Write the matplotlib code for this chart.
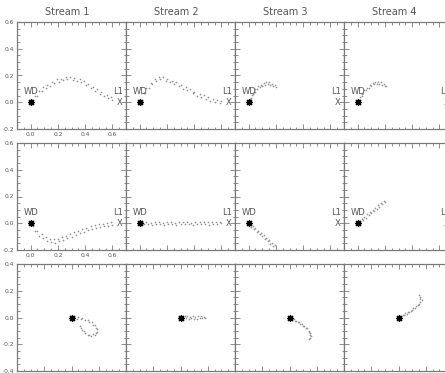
import matplotlib
matplotlib.use('Agg')
import matplotlib.pyplot as plt
from matplotlib.ticker import MultipleLocator, AutoMinorLocator, FormatStrFormatter

# ---- data: particle positions ----
titles = ['Stream 1', 'Stream 2', 'Stream 3', 'Stream 4']

# row 1
s1_r1_x = [0.03, 0.05, 0.06, 0.08, 0.09, 0.11, 0.12, 0.14, 0.16, 0.17, 0.19, 0.21,
           0.22, 0.24, 0.26, 0.27, 0.29, 0.31, 0.32, 0.34, 0.36, 0.37, 0.39, 0.41,
           0.42, 0.44, 0.46, 0.47, 0.49, 0.51, 0.52, 0.54, 0.56, 0.57, 0.59, 0.60]
s1_r1_y = [0.050, 0.048, 0.081, 0.082, 0.112, 0.105, 0.128, 0.123, 0.155, 0.144, 0.172, 0.155,
           0.176, 0.163, 0.188, 0.172, 0.192, 0.168, 0.183, 0.158, 0.175, 0.154, 0.162, 0.130,
           0.138, 0.108, 0.115, 0.087, 0.097, 0.065, 0.073, 0.043, 0.055, 0.029, 0.038, 0.015]
s2_r1_x = [0.03, 0.04, 0.05, 0.07, 0.08, 0.09, 0.11, 0.12, 0.14, 0.15, 0.17, 0.19, 0.20,
           0.22, 0.24, 0.25, 0.27, 0.29, 0.30, 0.32, 0.34, 0.35, 0.37, 0.39, 0.40, 0.42,
           0.44, 0.45, 0.47, 0.49, 0.50, 0.52, 0.54, 0.55, 0.57, 0.59, 0.60]
s2_r1_y = [0.070, 0.072, 0.103, 0.110, 0.147, 0.137, 0.172, 0.160, 0.190, 0.172, 0.190, 0.162, 0.176,
           0.148, 0.162, 0.140, 0.150, 0.118, 0.130, 0.100, 0.112, 0.089, 0.099, 0.067, 0.080, 0.050,
           0.063, 0.041, 0.052, 0.022, 0.036, 0.009, 0.025, 0.004, 0.017, -0.007, 0.008]
s3_r1_x = [0.01, 0.02, 0.025, 0.03, 0.04, 0.045, 0.05, 0.06, 0.07, 0.08, 0.09,
           0.10, 0.11, 0.12, 0.13, 0.14, 0.15, 0.16, 0.17, 0.18, 0.19, 0.20]
s3_r1_y = [0.025, 0.035, 0.052, 0.058, 0.078, 0.080, 0.098, 0.100, 0.118, 0.112, 0.132,
           0.125, 0.145, 0.132, 0.148, 0.135, 0.150, 0.130, 0.140, 0.118, 0.128, 0.112]
s4_r1_x = [0.01, 0.02, 0.03, 0.035, 0.04, 0.05, 0.06, 0.07, 0.08, 0.09, 0.10,
           0.11, 0.12, 0.13, 0.14, 0.15, 0.16, 0.17, 0.18, 0.19, 0.20, 0.21]
s4_r1_y = [0.020, 0.040, 0.045, 0.065, 0.068, 0.088, 0.090, 0.110, 0.108, 0.128, 0.122,
           0.142, 0.135, 0.152, 0.140, 0.155, 0.138, 0.148, 0.128, 0.138, 0.118, 0.122]

# row 2
s1_r2_x = [0.02, 0.03, 0.05, 0.06, 0.08, 0.09, 0.11, 0.12, 0.14, 0.15,
           0.17, 0.18, 0.20, 0.21, 0.23, 0.24, 0.26, 0.27, 0.29, 0.30,
           0.32, 0.33, 0.35, 0.36, 0.38, 0.39, 0.41, 0.42, 0.44, 0.45,
           0.47, 0.48, 0.50, 0.51, 0.53, 0.54, 0.56, 0.57, 0.59, 0.60]
s1_r2_y = [-0.020, -0.055, -0.060, -0.092, -0.083, -0.112, -0.103, -0.132, -0.116, -0.142,
           -0.120, -0.144, -0.116, -0.136, -0.104, -0.124, -0.092, -0.112, -0.080, -0.100,
           -0.068, -0.088, -0.056, -0.076, -0.044, -0.064, -0.032, -0.052, -0.022, -0.042,
           -0.014, -0.036, -0.008, -0.030, -0.002, -0.024, 0.004, -0.018, 0.010, -0.010]
s2_r2_x = [0.02, 0.03, 0.05, 0.06, 0.08, 0.09, 0.11, 0.12, 0.14, 0.15,
           0.17, 0.18, 0.20, 0.21, 0.23, 0.24, 0.26, 0.27, 0.29, 0.30,
           0.32, 0.33, 0.35, 0.36, 0.38, 0.39, 0.41, 0.42, 0.44, 0.45,
           0.47, 0.48, 0.50, 0.51, 0.53, 0.54, 0.56, 0.57, 0.59, 0.60]
s2_r2_y = [0.006, -0.008, 0.010, -0.006, 0.004, -0.010, 0.008, -0.004, 0.011, -0.008,
           0.005, -0.011, 0.009, -0.005, 0.012, -0.007, 0.004, -0.010, 0.010, -0.004,
           0.008, -0.009, 0.012, -0.006, 0.005, -0.010, 0.011, -0.004, 0.008, -0.009,
           0.012, -0.005, 0.006, -0.010, 0.010, -0.006, 0.009, -0.004, 0.011, 0.002]
s3_r2_x = [0.01, 0.02, 0.03, 0.04, 0.05, 0.06, 0.07, 0.08, 0.09, 0.10,
           0.11, 0.12, 0.13, 0.14, 0.15, 0.16, 0.17, 0.18, 0.19]
s3_r2_y = [-0.002, -0.026, -0.020, -0.045, -0.037, -0.063, -0.055, -0.080, -0.073, -0.099,
           -0.090, -0.117, -0.108, -0.135, -0.127, -0.152, -0.145, -0.170, -0.163]
s4_r2_x = [0.01, 0.02, 0.03, 0.04, 0.05, 0.06, 0.07, 0.08, 0.09, 0.10,
           0.11, 0.12, 0.13, 0.14, 0.15, 0.16, 0.17, 0.18, 0.19, 0.20]
s4_r2_y = [0.016, 0.009, 0.033, 0.025, 0.050, 0.042, 0.066, 0.058, 0.083, 0.075,
           0.099, 0.092, 0.116, 0.108, 0.133, 0.125, 0.149, 0.141, 0.166, 0.158]

# row 3
s1_r3_x = [0.02, 0.04, 0.05, 0.07, 0.08, 0.10, 0.12, 0.13, 0.15, 0.16, 0.17, 0.18, 0.19,
           0.19, 0.18, 0.17, 0.16, 0.14, 0.13, 0.12, 0.10, 0.09, 0.08, 0.07, 0.06]
s1_r3_y = [0.005, -0.008, 0.002, -0.014, -0.006, -0.022, -0.018, -0.035, -0.032, -0.055, -0.058, -0.080, -0.085,
           -0.108, -0.115, -0.130, -0.122, -0.142, -0.132, -0.128, -0.115, -0.100, -0.090, -0.075, -0.060]
s2_r3_x = [0.01, 0.02, 0.03, 0.04, 0.05, 0.06, 0.07, 0.08, 0.09,
           0.10, 0.11, 0.12, 0.13, 0.14, 0.15, 0.16, 0.17, 0.18]
s2_r3_y = [0.006, -0.007, 0.009, -0.004, 0.008, -0.009, 0.005, -0.006, 0.010,
           -0.008, 0.004, -0.010, 0.008, -0.004, 0.009, -0.007, 0.005, 0.0]
s3_r3_x = [0.01, 0.02, 0.03, 0.04, 0.05, 0.06, 0.07, 0.08, 0.09, 0.10,
           0.11, 0.12, 0.13, 0.14, 0.14, 0.15, 0.15, 0.16, 0.15, 0.14]
s3_r3_y = [-0.002, -0.012, -0.014, -0.024, -0.024, -0.036, -0.036, -0.048, -0.048, -0.062,
           -0.064, -0.080, -0.082, -0.098, -0.108, -0.118, -0.130, -0.140, -0.150, -0.158]
s4_r3_x = [0.01, 0.02, 0.03, 0.04, 0.05, 0.06, 0.07, 0.08, 0.09, 0.10,
           0.11, 0.12, 0.13, 0.14, 0.15, 0.16, 0.17, 0.16, 0.16, 0.15]
s4_r3_y = [0.010, 0.006, 0.020, 0.016, 0.030, 0.026, 0.040, 0.040, 0.052, 0.056,
           0.068, 0.072, 0.086, 0.092, 0.104, 0.114, 0.128, 0.140, 0.152, 0.165]

streams = [
    [(s1_r1_x, s1_r1_y), (s2_r1_x, s2_r1_y), (s3_r1_x, s3_r1_y), (s4_r1_x, s4_r1_y)],
    [(s1_r2_x, s1_r2_y), (s2_r2_x, s2_r2_y), (s3_r2_x, s3_r2_y), (s4_r2_x, s4_r2_y)],
    [(s1_r3_x, s1_r3_y), (s2_r3_x, s2_r3_y), (s3_r3_x, s3_r3_y), (s4_r3_x, s4_r3_y)],
]

wd_pos = (0.0, 0.0)
l1_pos = (0.655, 0.0)

# ---- layout (pixels of a 445x373 canvas) ----
W, H = 445, 373
col_left = [17, 126, 235, 344]
col_w = 109
row_top = [22, 143, 264]
row_h = 107
row_xlim = [(-0.1, 0.7), (-0.1, 0.7), (-0.4, 0.4)]
row_ylim = [(-0.2, 0.6), (-0.2, 0.6), (-0.4, 0.4)]

axcol = '#7a7a7a'
txtcol = '#555555'

fig = plt.figure(figsize=(W / 100, H / 100), dpi=100)

for r in range(3):
    for c in range(4):
        ax = fig.add_axes([col_left[c] / W, 1 - (row_top[r] + row_h) / H,
                           col_w / W, row_h / H])
        ax.set_xlim(*row_xlim[r])
        ax.set_ylim(*row_ylim[r])
        for sp in ax.spines.values():
            sp.set_color(axcol)
            sp.set_linewidth(0.9)
        ax.xaxis.set_major_locator(MultipleLocator(0.2))
        ax.yaxis.set_major_locator(MultipleLocator(0.2))
        ax.xaxis.set_minor_locator(AutoMinorLocator(4))
        ax.yaxis.set_minor_locator(AutoMinorLocator(4))
        ax.xaxis.set_major_formatter(FormatStrFormatter('%.1f'))
        ax.yaxis.set_major_formatter(FormatStrFormatter('%.1f'))
        ax.tick_params(which='both', direction='in', top=True, right=True,
                       color=axcol, width=0.6, labelsize=4.3, labelcolor=txtcol)
        ax.tick_params(which='major', length=3.5, pad=2)
        ax.tick_params(which='minor', length=1.8)
        if c != 0:
            ax.tick_params(labelleft=False)
        if c != 0 or r == 2:
            ax.tick_params(labelbottom=False)

        xs, ys = streams[r][c]
        ax.plot(xs, ys, '+', color='#909090', ms=1.8, mew=0.4, zorder=2)
        ax.plot(*wd_pos, marker=(8, 2, 0), color='black', ms=5, mew=0.9, zorder=3)

        if r < 2:
            ax.text(0.005, 0.045, 'WD', fontsize=6, color=txtcol, ha='center', va='bottom')
            ax.text(0.645, 0.045, 'L1', fontsize=6, color=txtcol, ha='center', va='bottom')
            ax.text(l1_pos[0], l1_pos[1], 'X', fontsize=6, color=txtcol, ha='center', va='center')

        if r == 0:
            fig.text((col_left[c] + col_w / 2 - 4) / W, 1 - 12 / H, titles[c],
                     fontsize=7, color=txtcol, ha='center', va='center')

fig.savefig('out.png', dpi=100)
